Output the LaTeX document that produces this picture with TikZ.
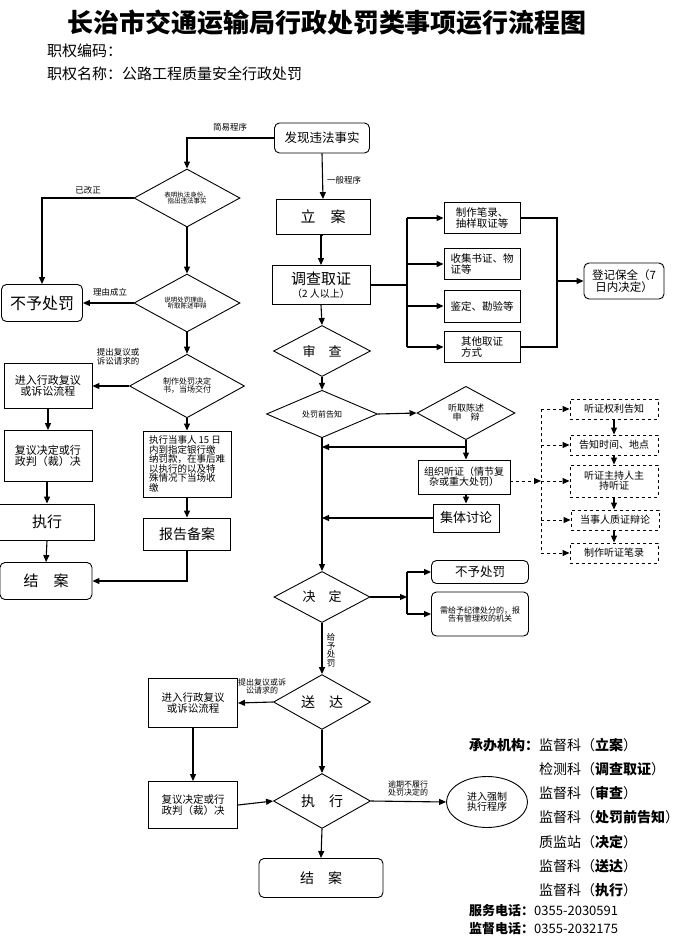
\documentclass[tikz,border=0pt]{standalone}
\usepackage{fontspec}
\setmainfont{Noto Sans CJK SC}
\usetikzlibrary{shapes.geometric,arrows.meta}
\newcommand{\fs}[1]{\fontsize{#1}{#1}\selectfont}
\begin{document}
\begin{tikzpicture}[x=1pt,y=-1pt,
  every node/.style={inner sep=1pt,align=center},
  bx/.style={draw,line width=0.9pt,minimum width=#1},
  rbx/.style={draw,line width=0.9pt,rounded corners=5pt,minimum width=#1},
  dbx/.style={draw,dashed,line width=0.9pt,minimum width=88pt},
  dia/.style={draw,diamond,line width=0.9pt,inner sep=0pt},
  arr/.style={line width=1.1pt,-{Triangle[length=7pt,width=6pt]}},
  darr/.style={line width=1pt,dashed,-{Triangle[length=7pt,width=6pt]}},
  ln/.style={line width=1.1pt},
  dln/.style={line width=1pt,dashed},
  lab/.style={font=\fs{8.5}}]
\useasboundingbox (0,0) rectangle (683,946);
% title
\node[font=\fs{26}\bfseries] (title) at (327,23) {长治市交通运输局行政处罚类事项运行流程图};
\node[font=\fs{15},anchor=west] (code) at (46,51) {职权编码：};
\node[font=\fs{15},anchor=west] (name) at (46,74) {职权名称：公路工程质量安全行政处罚};
% center column
\node[rbx=95pt,minimum height=30pt,font=\fs{12.5}] (faxian) at (322,138) {发现违法事实};
\node[bx=94pt,minimum height=35pt,font=\fs{15}] (lian) at (323,217) {立　案};
\node[bx=98pt,minimum height=39pt] (diaocha) at (321,285) {{\fs{15}调查取证}\\[1pt]{\fs{10}（2 人以上）}};
\node[dia,minimum width=97pt,minimum height=44pt,font=\fs{13}] (shencha) at (322,351) {审　查};
\node[dia,minimum width=111pt,minimum height=43pt,font=\fs{8}] (gaozhi) at (322,414) {处罚前告知};
\node[dia,minimum width=98pt,minimum height=52pt,font=\fs{9}] (tingqu) at (466,413) {听取陈述\\申　辩};
\node[bx=92pt,minimum height=34pt,font=\fs{10}] (tingzheng) at (464,477) {组织听证（情节复\\杂或重大处罚）};
\node[bx=66pt,minimum height=28pt,font=\fs{13}] (jiti) at (466,518) {集体讨论};
\node[dia,minimum width=96pt,minimum height=49pt,font=\fs{13}] (jueding) at (322,597) {决　定};
\node[rbx=97pt,minimum height=23pt,font=\fs{12.5}] (nb) at (480,572) {不予处罚};
\node[rbx=97pt,minimum height=44pt,font=\fs{8}] (jl) at (480,614) {需给予纪律处分的，报\\告有管理权的机关};
\node[dia,minimum width=97pt,minimum height=52pt,font=\fs{14}] (songda) at (322,702) {送　达};
\node[dia,minimum width=97pt,minimum height=52pt,font=\fs{14}] (zhixing) at (322,801) {执　行};
\node[rbx=124pt,minimum height=39pt,font=\fs{14}] (ja2) at (321,878) {结　案};
\node[draw,ellipse,line width=0.9pt,minimum width=81pt,minimum height=51pt,font=\fs{10}] (qz) at (487,802) {进入强制\\执行程序};
\node[bx=89pt,minimum height=49pt,font=\fs{10.5}] (fy3) at (193,703) {进入行政复议\\或诉讼流程};
\node[bx=89pt,minimum height=47pt,font=\fs{10.5}] (fy4) at (193,805) {复议决定或行\\政判（裁）决};
% evidence boxes
\node[bx=76pt,minimum height=31pt,font=\fs{10.5},align=left] (e1) at (482,218) {制作笔录、\\抽样取证等};
\node[bx=76pt,minimum height=31pt,font=\fs{10.5},align=left] (e2) at (482,264) {收集书证、物\\证等};
\node[bx=76pt,minimum height=32pt,font=\fs{10.5}] (e3) at (482,306) {鉴定、勘验等};
\node[bx=76pt,minimum height=31pt,font=\fs{10.5},align=left] (e4) at (482,347) {其他取证\\方式};
\node[rbx=80pt,minimum height=36pt,font=\fs{11.5}] (dengji) at (624,281) {登记保全（7\\日内决定）};
% hearing boxes
\node[dbx,minimum height=20pt,font=\fs{10}] (hz1) at (614,409) {听证权利告知};
\node[dbx,minimum height=20pt,font=\fs{10}] (hz2) at (614,445) {告知时间、地点};
\node[dbx,minimum height=32pt,font=\fs{10}] (hz3) at (614,481) {听证主持人主\\持听证};
\node[dbx,minimum height=20pt,font=\fs{10}] (hz4) at (615,520) {当事人质证辩论};
\node[dbx,minimum height=20pt,font=\fs{10}] (hz5) at (614,553) {制作听证笔录};
% left column
\node[dia,minimum width=106pt,minimum height=52pt,font=\fs{6.5}] (d1) at (187,198) {表明执法身份、\\指出违法事实};
\node[rbx=81pt,minimum height=37pt,font=\fs{16}] (buyu) at (42,303) {不予处罚};
\node[dia,minimum width=106pt,minimum height=50pt,font=\fs{6.5}] (d2) at (187,303) {说明处罚理由，\\听取陈述申辩};
\node[dia,minimum width=115pt,minimum height=55pt,font=\fs{8}] (d3) at (187,386) {制作处罚决定\\书，当场交付};
\node[bx=88pt,minimum height=45pt,font=\fs{11}] (fy1) at (48,386) {进入行政复议\\或诉讼流程};
\node[bx=88pt,minimum height=51pt,font=\fs{11}] (fy2) at (48,456) {复议决定或行\\政判（裁）决};
\node[bx=95pt,minimum height=36pt,font=\fs{15}] (zx1) at (47,522) {执行};
\node[rbx=92pt,minimum height=37pt,font=\fs{15}] (ja1) at (46,581) {结　案};
\node[bx=88pt,minimum height=66pt,font=\fs{9.5},align=left] (dangshi) at (187,464) {执行当事人 15 日\\内到指定银行缴\\纳罚款，在事后难\\以执行的以及特\\殊情况下当场收\\缴};
\node[bx=87pt,minimum height=32pt,font=\fs{14}] (baogao) at (187,534) {报告备案};
% labels
\node[lab] (l1) at (230,127) {简易程序};
\node[lab] (l2) at (344,180) {一般程序};
\node[lab] (l3) at (88,190) {已改正};
\node[lab] (l4) at (110,292) {理由成立};
\node[lab,font=\fs{8.5}] (l5) at (118,357) {提出复议或\\诉讼请求的};
\node[lab,font=\fs{8.5}] (l6) at (331,650) {给\\予\\处\\罚};
\node[lab,font=\fs{8}] (l7) at (262,686) {提出复议或诉\\讼请求的};
\node[lab,font=\fs{8}] (l8) at (408,788) {逾期不履行\\处罚决定的};
% info text
\node[font=\fs{14}\bfseries,anchor=west] (cb) at (468,745) {承办机构：};
\node[font=\fs{14},anchor=west] (t1) at (538,745) {监督科（{\bfseries 立案}）};
\node[font=\fs{14},anchor=west] (t2) at (538,769) {检测科（{\bfseries 调查取证}）};
\node[font=\fs{14},anchor=west] (t3) at (538,793) {监督科（{\bfseries 审查}）};
\node[font=\fs{14},anchor=west] (t4) at (538,817) {监督科（{\bfseries 处罚前告知}）};
\node[font=\fs{14},anchor=west] (t5) at (538,842) {质监站（{\bfseries 决定}）};
\node[font=\fs{14},anchor=west] (t6) at (538,866) {监督科（{\bfseries 送达}）};
\node[font=\fs{14},anchor=west] (t7) at (538,890) {监督科（{\bfseries 执行}）};
\node[font=\fs{13},anchor=west] (p1) at (468,911) {{\bfseries 服务电话：}0355-2030591};
\node[font=\fs{13},anchor=west] (p2) at (468,929) {{\bfseries 监督电话：}0355-2032175};
% connectors: center
\draw[arr] (faxian.west) -| (d1.north);
\draw[arr] (faxian.south) -- (lian.north);
\draw[arr] (lian.south) -- (diaocha.south |- lian.south) -- (diaocha.north);
\draw[arr] (diaocha.south) -- (shencha.north);
\draw[arr] (shencha.south) -- (gaozhi.north);
\draw[arr] (gaozhi.east) -- (tingqu.west);
\draw[arr] (gaozhi.south) -- (jueding.north);
\coordinate (b1) at (466,447);
\draw[arr] (tingqu.south) -- (tingqu.south |- tingzheng.north);
\draw[arr] (b1) -- (b1 -| gaozhi.south);
\draw[arr] (tingzheng.south -| jiti.north) -- (jiti.north);
\draw[arr] (jiti.west) -- (jiti.west -| gaozhi.south);
% hearing dashed
\coordinate (dvt) at (541,409);
\coordinate (dvb) at (541,553);
\draw[dln] (dvt) -- (dvb);
\draw[darr] (tingzheng.east |- hz3.west) -- (hz3.west -| dvt);
\draw[darr] (hz1.west -| dvt) -- (hz1.west);
\draw[darr] (hz2.west -| dvt) -- (hz2.west);
\draw[darr] (hz3.west -| dvt) -- (hz3.west);
\draw[darr] (hz4.west -| dvt) -- (hz4.west);
\draw[darr] (hz5.west -| dvt) -- (hz5.west);
\draw[arr] (hz1.south) -- (hz2.north);
\draw[arr] (hz2.south) -- (hz3.north);
\draw[arr] (hz3.south) -- (hz3.south |- hz4.north);
\draw[arr] (hz4.south -| hz5.north) -- (hz5.north);
% evidence
\coordinate (ev) at (407,285);
\draw[ln] (diaocha.east) -- (ev);
\draw[ln] (ev |- e1.west) -- (ev |- e4.west);
\draw[arr] (ev |- e1.west) -- (e1.west);
\draw[arr] (ev |- e2.west) -- (e2.west);
\draw[arr] (ev |- e3.west) -- (e3.west);
\draw[arr] (ev |- e4.west) -- (e4.west);
\coordinate (ec) at (557,281);
\draw[ln] (e1.east) -| (ec |- e4.east) -- (e4.east);
\draw[arr] (ec |- dengji.west) -- (dengji.west);
% decision
\coordinate (dj) at (407,597);
\draw[arr] (jueding.east) -- (dj);
\draw[ln] (dj |- nb.west) -- (dj |- jl.west);
\draw[arr] (dj |- nb.west) -- (nb.west);
\draw[arr] (dj |- jl.west) -- (jl.west);
% bottom
\draw[arr] (jueding.south) -- (songda.north);
\draw[arr] (songda.west) -- (fy3.east);
\draw[arr] (fy3.south) -- (fy4.north);
\draw[arr] (fy4.east) -- (zhixing.west);
\draw[arr] (songda.south) -- (zhixing.north);
\draw[arr] (zhixing.east) -- (qz.west);
\draw[arr] (zhixing.south) -- (ja2.north);
% left
\draw[arr] (d1.west) -| (buyu.north);
\draw[arr] (d1.south) -- (d2.north);
\draw[arr] (d2.west) -- (buyu.east);
\draw[arr] (d2.south) -- (d3.north);
\draw[arr] (d3.west) -- (fy1.east);
\draw[arr] (fy1.south) -- (fy2.north);
\draw[arr] (fy2.south) -- (zx1.south |- fy2.south) -- (zx1.north);
\draw[arr] (zx1.south) -- (ja1.north);
\draw[arr] (d3.south) -- (dangshi.north);
\draw[arr] (dangshi.south) -- (baogao.north);
\draw[arr] (baogao.south) |- (ja1.east);
\end{tikzpicture}
\end{document}
